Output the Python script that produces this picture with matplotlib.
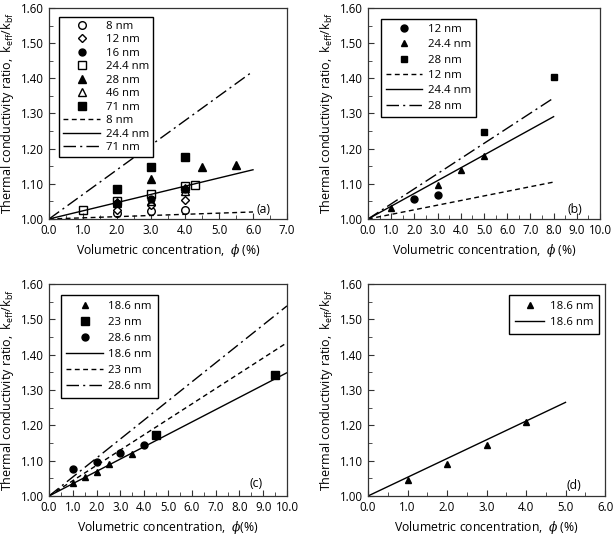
import matplotlib
matplotlib.use("Agg")
import matplotlib.pyplot as plt
from matplotlib.ticker import MultipleLocator, FormatStrFormatter
import numpy as np

plt.rcParams['font.family'] = ['Open Sans', 'DejaVu Sans']
plt.rcParams['mathtext.fontset'] = 'dejavuserif'

# ---------------- Data ----------------
# Panel (a)
a_8nm_x = [2, 3, 4];            a_8nm_y = [1.016, 1.022, 1.026]
a_12nm_x = [2, 3, 4];           a_12nm_y = [1.026, 1.041, 1.055]
a_16nm_x = [2, 3, 4];           a_16nm_y = [1.045, 1.058, 1.085]
a_244nm_x = [1, 2, 3, 4, 4.3];  a_244nm_y = [1.025, 1.052, 1.072, 1.094, 1.097]
a_28nm_x = [2, 3, 4, 4.5, 5.5]; a_28nm_y = [1.049, 1.115, 1.087, 1.148, 1.153]
a_46nm_x = [2, 3, 4];           a_46nm_y = [1.045, 1.052, 1.080]
a_71nm_x = [2, 3, 4];           a_71nm_y = [1.085, 1.147, 1.176]
a_line_x = [0, 6]
a_line_8nm = [1.00, 1.020]
a_line_244nm = [1.00, 1.140]
a_line_71nm = [1.00, 1.420]

# Panel (b)
b_12nm_x = [2, 3];          b_12nm_y = [1.058, 1.068]
b_244nm_x = [1, 3, 4, 5];   b_244nm_y = [1.030, 1.098, 1.138, 1.180]
b_28nm_x = [5, 8];          b_28nm_y = [1.248, 1.405]
b_line_x = [0, 8]
b_line_12nm = [1.00, 1.105]
b_line_244nm = [1.00, 1.291]
b_line_28nm = [1.00, 1.344]

# Panel (c)
c_186nm_x = [1, 1.5, 2, 2.5, 3.5]; c_186nm_y = [1.038, 1.055, 1.067, 1.090, 1.120]
c_23nm_x = [4.5, 9.5];             c_23nm_y = [1.174, 1.342]
c_286nm_x = [1, 2, 3, 4];          c_286nm_y = [1.077, 1.096, 1.122, 1.145]
c_line_x = [0, 10]
c_line_186nm = [1.00, 1.349]
c_line_23nm = [1.00, 1.434]
c_line_286nm = [1.00, 1.538]

# Panel (d)
d_186nm_x = [1, 2, 3, 4]; d_186nm_y = [1.045, 1.090, 1.144, 1.210]
d_line_x = [0, 5]
d_line_186nm = [1.00, 1.265]

DASH = (0, (3.5, 2.5))
DASHDOT = (0, (9, 3, 1.5, 3))

fig = plt.figure(figsize=(6.14, 5.37), dpi=100)
W, H = 614, 537

def mkax(l, r, t, b):
    return fig.add_axes([l / W, 1 - b / H, (r - l) / W, (b - t) / H])

axa = mkax(49, 287, 8, 219)
axb = mkax(368, 600, 8, 219)
axc = mkax(49, 287, 284, 496)
axd = mkax(368, 605, 284, 496)

def style(ax, xmax):
    ax.set_xlim(0, xmax)
    ax.set_ylim(1.0, 1.6)
    ax.xaxis.set_major_locator(MultipleLocator(1.0))
    ax.xaxis.set_minor_locator(MultipleLocator(0.5))
    ax.yaxis.set_major_locator(MultipleLocator(0.1))
    ax.yaxis.set_minor_locator(MultipleLocator(0.05))
    ax.xaxis.set_major_formatter(FormatStrFormatter('%.1f'))
    ax.yaxis.set_major_formatter(FormatStrFormatter('%.2f'))
    ax.tick_params(which='both', direction='in', labelsize=8.3, color='#333333')
    ax.tick_params(which='major', length=4)
    ax.tick_params(which='minor', length=3)
    for s in ax.spines.values():
        s.set_color('#333333')
        s.set_linewidth(0.9)
    ax.set_ylabel(r'Thermal conductivity ratio,  $\mathregular{k_{eff}/k_{bf}}$', fontsize=9)

ms = 5.5
mk = dict(linestyle='none', markersize=ms, markeredgecolor='black', markeredgewidth=1.0)
LEG = dict(fontsize=8.2, frameon=True, fancybox=False, edgecolor='black', framealpha=1,
           handletextpad=0.5, numpoints=1)

# ---- (a)
ax = axa
ax.plot(a_8nm_x, a_8nm_y, marker='o', markerfacecolor='white', label='8 nm', **mk)
ax.plot(a_12nm_x, a_12nm_y, marker='D', markerfacecolor='white', label='12 nm',
        linestyle='none', markersize=4, markeredgecolor='black', markeredgewidth=1.0)
ax.plot(a_16nm_x, a_16nm_y, marker='o', markerfacecolor='black', label='16 nm',
        linestyle='none', markersize=5, markeredgecolor='black')
ax.plot(a_244nm_x, a_244nm_y, marker='s', markerfacecolor='none', label='24.4 nm', **mk)
ax.plot(a_28nm_x, a_28nm_y, marker='^', markerfacecolor='black', label='28 nm', **mk)
ax.plot(a_46nm_x, a_46nm_y, marker='^', markerfacecolor='none', label='46 nm', **mk)
ax.plot(a_71nm_x, a_71nm_y, marker='s', markerfacecolor='black', label='71 nm', **mk)
ax.plot(a_line_x, a_line_8nm, color='black', lw=1.0, linestyle=DASH, label='8 nm')
ax.plot(a_line_x, a_line_244nm, color='black', lw=1.0, label='24.4 nm')
ax.plot(a_line_x, a_line_71nm, color='black', lw=1.0, linestyle=DASHDOT, label='71 nm')
style(ax, 7.0)
ax.set_xlabel(r'Volumetric concentration,  $\phi$ (%)', fontsize=8.8)
ax.text(6.3, 1.028, '(a)', fontsize=8.8, ha='center', va='center')
ax.legend(loc='upper left', bbox_to_anchor=(0.02, 0.985), handlelength=3.2,
          labelspacing=0.22, borderpad=0.35, **LEG)

# ---- (b)
ax = axb
ax.plot(b_12nm_x, b_12nm_y, marker='o', markerfacecolor='black', label='12 nm',
        linestyle='none', markersize=5, markeredgecolor='black')
ax.plot(b_244nm_x, b_244nm_y, marker='^', markerfacecolor='black', label='24.4 nm',
        linestyle='none', markersize=5, markeredgecolor='black')
ax.plot(b_28nm_x, b_28nm_y, marker='s', markerfacecolor='black', label='28 nm',
        linestyle='none', markersize=5, markeredgecolor='black')
ax.plot(b_line_x, b_line_12nm, color='black', lw=1.0, linestyle=DASH, label='12 nm')
ax.plot(b_line_x, b_line_244nm, color='black', lw=1.0, label='24.4 nm')
ax.plot(b_line_x, b_line_28nm, color='black', lw=1.0, linestyle=DASHDOT, label='28 nm')
style(ax, 10.0)
ax.set_xlabel(r'Volumetric concentration,  $\phi$ (%)', fontsize=8.8)
ax.text(8.9, 1.026, '(b)', fontsize=8.8, ha='center', va='center')
ax.legend(loc='upper left', bbox_to_anchor=(0.03, 0.975), handlelength=3.2,
          labelspacing=0.38, borderpad=0.45, **LEG)

# ---- (c)
ax = axc
ax.plot(c_186nm_x, c_186nm_y, marker='^', markerfacecolor='black', label='18.6 nm',
        linestyle='none', markersize=5, markeredgecolor='black')
ax.plot(c_23nm_x, c_23nm_y, marker='s', markerfacecolor='black', label='23 nm',
        linestyle='none', markersize=6, markeredgecolor='black')
ax.plot(c_286nm_x, c_286nm_y, marker='o', markerfacecolor='black', label='28.6 nm',
        linestyle='none', markersize=5, markeredgecolor='black')
ax.plot(c_line_x, c_line_186nm, color='black', lw=1.0, label='18.6 nm')
ax.plot(c_line_x, c_line_23nm, color='black', lw=1.0, linestyle=DASH, label='23 nm')
ax.plot(c_line_x, c_line_286nm, color='black', lw=1.0, linestyle=DASHDOT, label='28.6 nm')
style(ax, 10.0)
ax.set_xlabel(r'Volumetric concentration,  $\phi$(%)', fontsize=8.8)
ax.text(8.7, 1.034, '(c)', fontsize=8.8, ha='center', va='center')
ax.legend(loc='upper left', bbox_to_anchor=(0.025, 0.975), handlelength=3.2,
          labelspacing=0.45, borderpad=0.5, **LEG)

# ---- (d)
ax = axd
ax.plot(d_186nm_x, d_186nm_y, marker='^', markerfacecolor='black', label='18.6 nm',
        linestyle='none', markersize=5, markeredgecolor='black')
ax.plot(d_line_x, d_line_186nm, color='black', lw=1.0, label='18.6 nm')
style(ax, 6.0)
ax.set_xlabel(r'Volumetric concentration,  $\phi$ (%)', fontsize=8.8)
ax.text(5.2, 1.03, '(d)', fontsize=8.8, ha='center', va='center')
ax.legend(loc='upper right', bbox_to_anchor=(1.0, 0.975), handlelength=2.6,
          labelspacing=0.45, borderpad=0.5, **LEG)

fig.savefig('out.png', dpi=100)
